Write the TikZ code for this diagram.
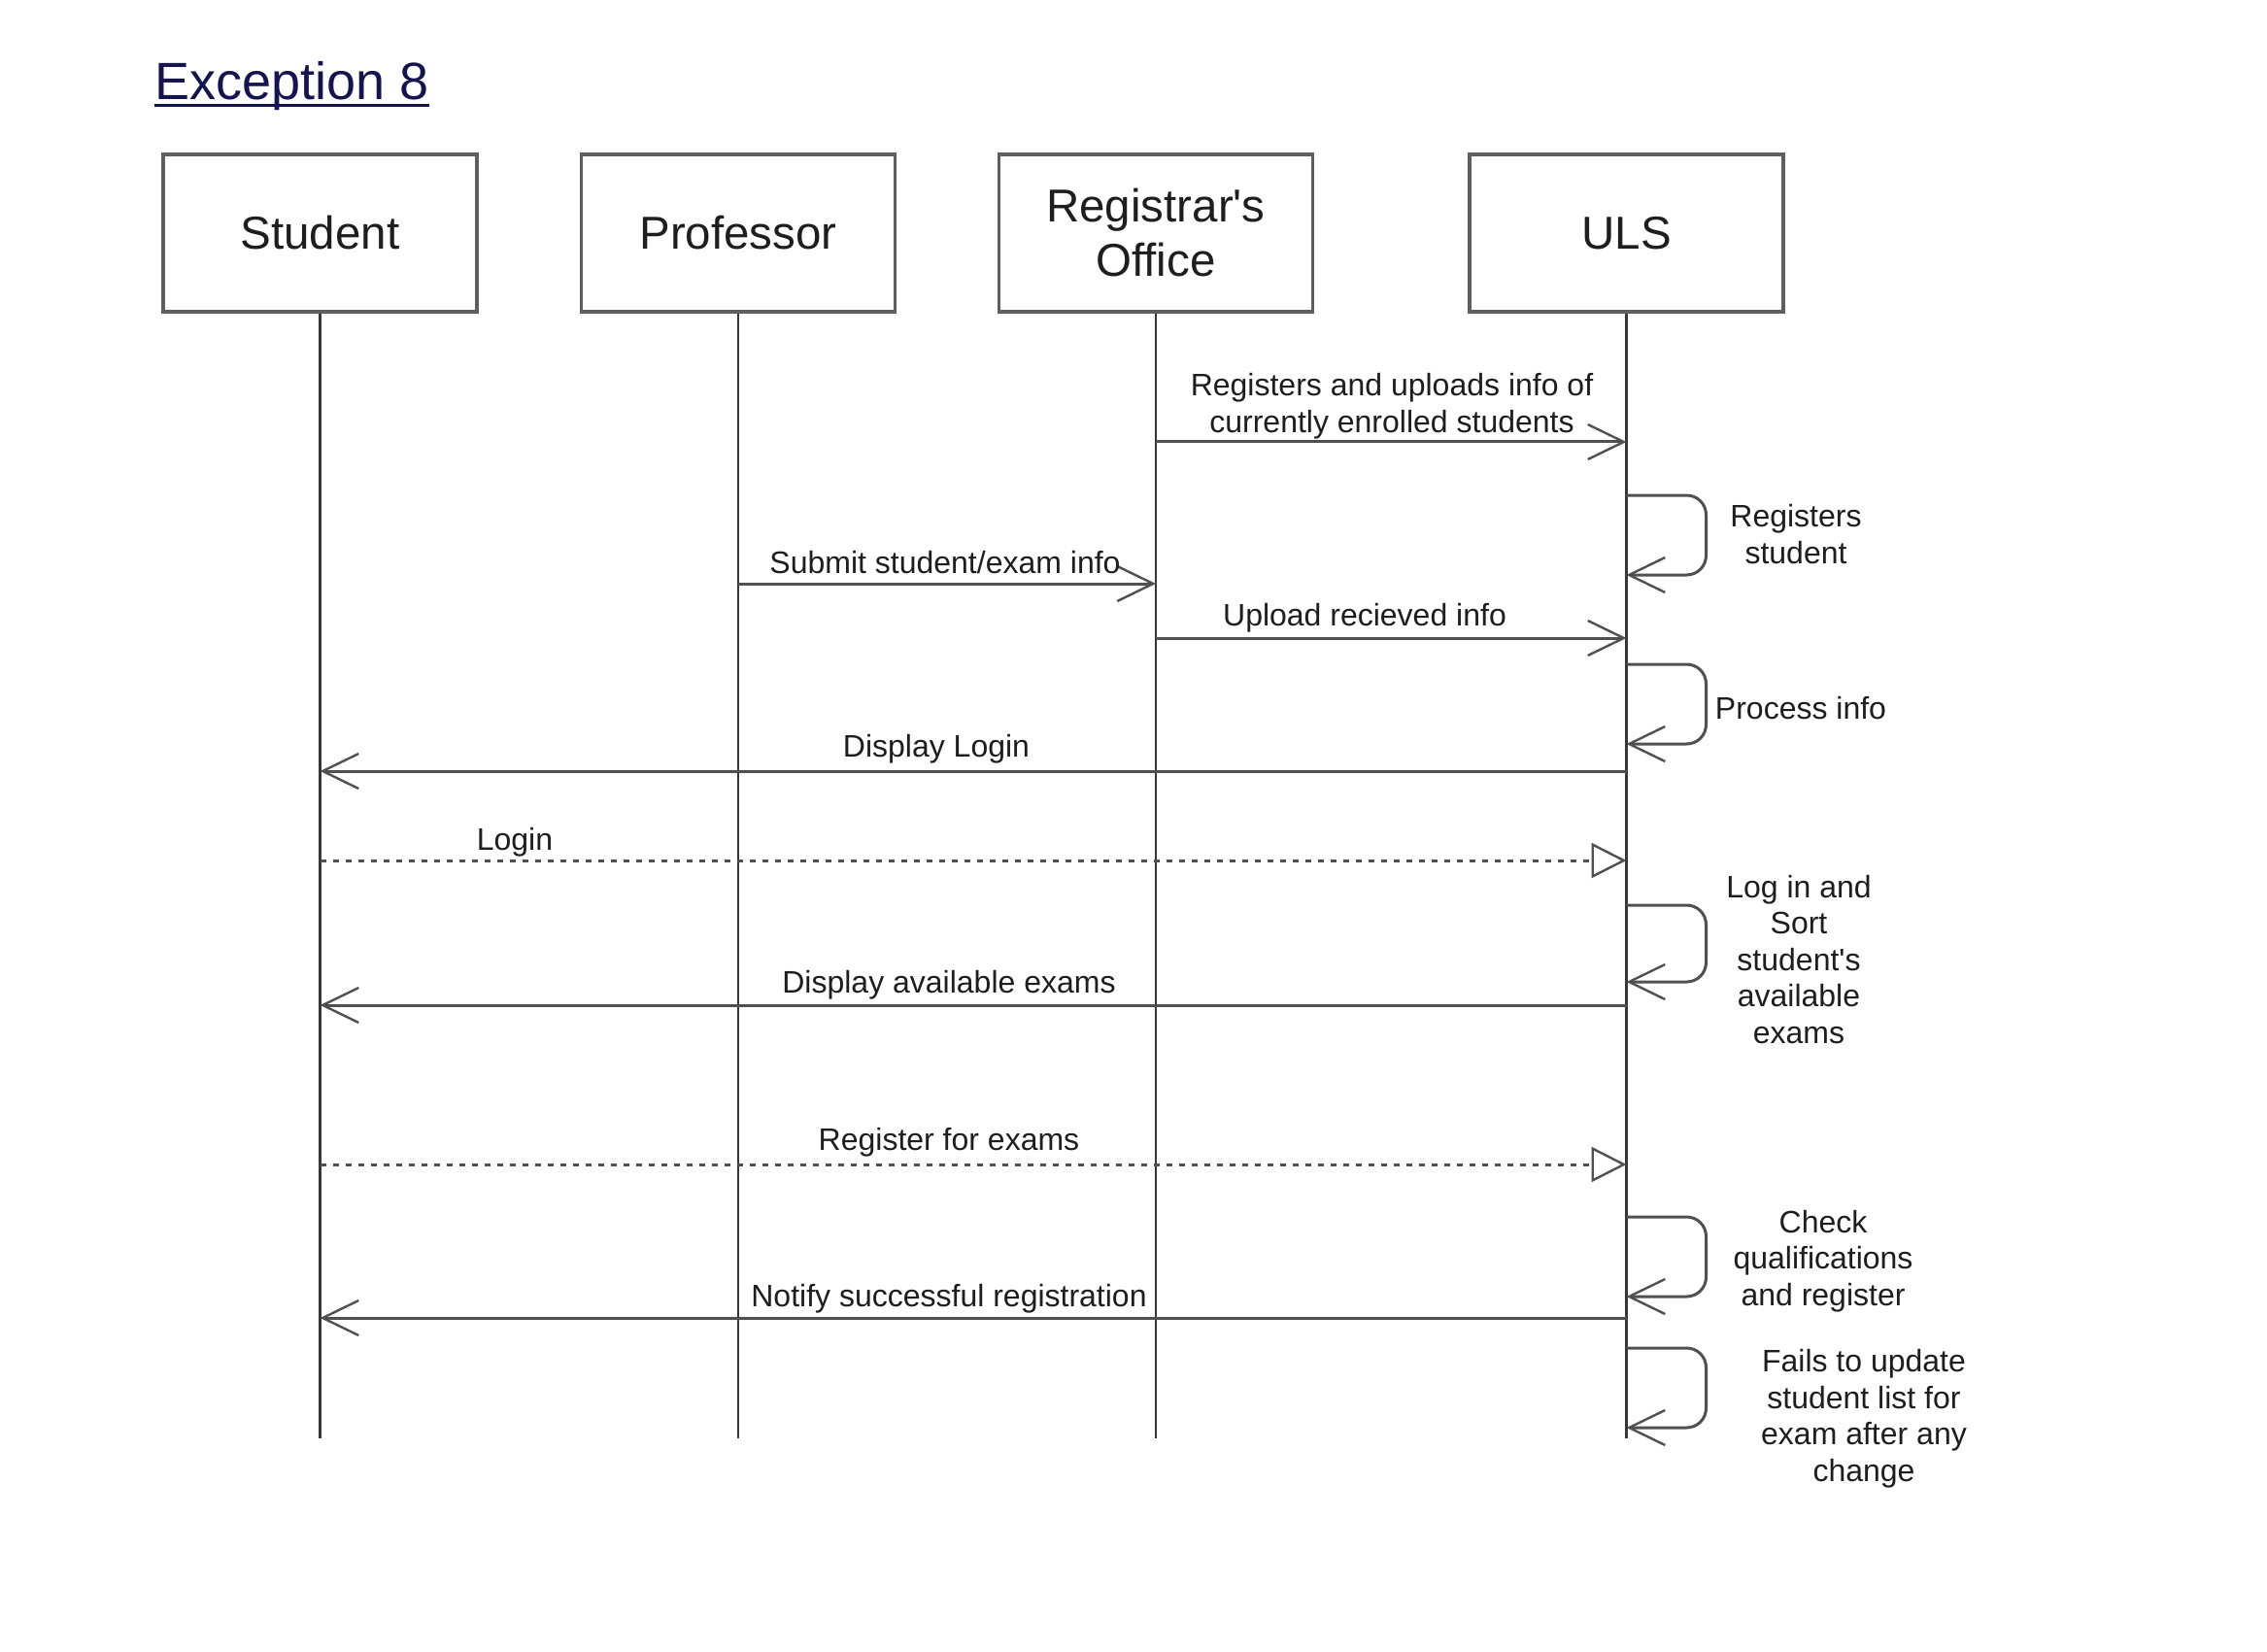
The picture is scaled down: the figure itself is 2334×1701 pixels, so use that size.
\documentclass[tikz,border=0pt]{standalone}
\usepackage{fontspec}
\setmainfont{Liberation Sans}
\usetikzlibrary{arrows.meta}
\definecolor{ink}{RGB}{30,30,30}
\definecolor{linec}{RGB}{80,80,80}
\definecolor{lifec}{RGB}{55,55,55}
\definecolor{boxc}{RGB}{95,95,95}
\definecolor{titlec}{RGB}{20,20,78}
\begin{document}
\begin{tikzpicture}[x=0.5pt,y=-0.5pt,
  actor/.style={draw=boxc, line width=1.9pt, minimum width=161.5pt, minimum height=81pt,
    inner sep=0pt, font=\fontsize{23.75}{28}\selectfont, text=ink, align=center},
  lifeline/.style={draw=lifec, line width=1.2pt},
  syncmsg/.style={draw=linec, line width=1.5pt,
    -{Straight Barb[length=18.5pt,width=18pt,line width=1.2pt]}},
  replymsg/.style={draw=linec, line width=1.5pt, dash pattern=on 3pt off 3.5pt,
    -{Triangle[length=18pt,width=18pt,fill=white,line width=1.2pt]}},
  selfloop/.style={syncmsg, rounded corners=10pt},
  lbl/.style={font=\fontsize{16}{18.75}\selectfont, text=ink, inner sep=0pt, anchor=base, align=center},
  titlestyle/.style={font=\fontsize{27}{32}\selectfont, text=titlec, inner sep=0pt, anchor=base west}
]
\fill[white] (0,0) rectangle (2334,1701);
\useasboundingbox (0,0) rectangle (2334,1701);

% title
\node[titlestyle] (title) at (159,103) {Exception 8};
\draw[titlec, line width=1.4pt] ([yshift=-2.6pt]title.base west) -- ([yshift=-2.6pt]title.base east);

% actors
\node[actor] (student)   at (329.5,240) {Student};
\node[actor] (professor) at (760,240)   {Professor};
\node[actor] (registrar) at (1190,240)  {Registrar\textquotesingle s\\Office};
\node[actor] (uls)       at (1674.5,240){ULS};

% rows
\coordinate (bottom) at (0,1481);
\coordinate (m1) at (0,455);
\coordinate (m2) at (0,601);
\coordinate (m3) at (0,657);
\coordinate (m4) at (0,794);
\coordinate (m5) at (0,886);
\coordinate (m6) at (0,1035);
\coordinate (m7) at (0,1199);
\coordinate (m8) at (0,1357);
\coordinate (a1) at (0,510);  \coordinate (b1) at (0,592);
\coordinate (a2) at (0,684);  \coordinate (b2) at (0,766);
\coordinate (a3) at (0,932);  \coordinate (b3) at (0,1011);
\coordinate (a4) at (0,1253); \coordinate (b4) at (0,1335);
\coordinate (a5) at (0,1388); \coordinate (b5) at (0,1470);

% lifelines
\draw[lifeline] (student.south)   -- (student |- bottom);
\draw[lifeline] (professor.south) -- (professor |- bottom);
\draw[lifeline] (registrar.south) -- (registrar |- bottom);
\draw[lifeline] (uls.south)       -- (uls |- bottom);

% messages
\draw[syncmsg]  (registrar |- m1) -- (uls |- m1);
\draw[syncmsg]  (professor |- m2) -- (registrar |- m2);
\draw[syncmsg]  (registrar |- m3) -- (uls |- m3);
\draw[syncmsg]  (uls |- m4) -- (student |- m4);
\draw[replymsg] (student |- m5) -- (uls |- m5);
\draw[syncmsg]  (uls |- m6) -- (student |- m6);
\draw[replymsg] (student |- m7) -- (uls |- m7);
\draw[syncmsg]  (uls |- m8) -- (student |- m8);

% self loops
\draw[selfloop] (uls |- a1) -- ++(82,0) |- (uls |- b1);
\draw[selfloop] (uls |- a2) -- ++(82,0) |- (uls |- b2);
\draw[selfloop] (uls |- a3) -- ++(82,0) |- (uls |- b3);
\draw[selfloop] (uls |- a4) -- ++(82,0) |- (uls |- b4);
\draw[selfloop] (uls |- a5) -- ++(82,0) |- (uls |- b5);

% message labels (base = baseline of the last line)
\node[lbl] (t1) at (1433,445) {Registers and uploads info of\\currently enrolled students};
\node[lbl] (t2) at (973,590)  {Submit student/exam info};
\node[lbl] (t3) at (1405,644) {Upload recieved info};
\node[lbl] (t4) at (964,779)  {Display Login};
\node[lbl] (t5) at (530,875)  {Login};
\node[lbl] (t6) at (977,1022) {Display available exams};
\node[lbl] (t7) at (977,1184) {Register for exams};
\node[lbl] (t8) at (977,1345) {Notify successful registration};

% self-loop labels
\node[lbl] (s1) at (1849,580)  {Registers\\student};
\node[lbl] (s2) at (1854,740)  {Process info};
\node[lbl] (s3) at (1852,1074) {Log in and\\Sort\\student\textquotesingle s\\available\\exams};
\node[lbl] (s4) at (1877,1344) {Check\\qualifications\\and register};
\node[lbl] (s5) at (1919,1525) {Fails to update\\student list for\\exam after any\\change};
\end{tikzpicture}
\end{document}
